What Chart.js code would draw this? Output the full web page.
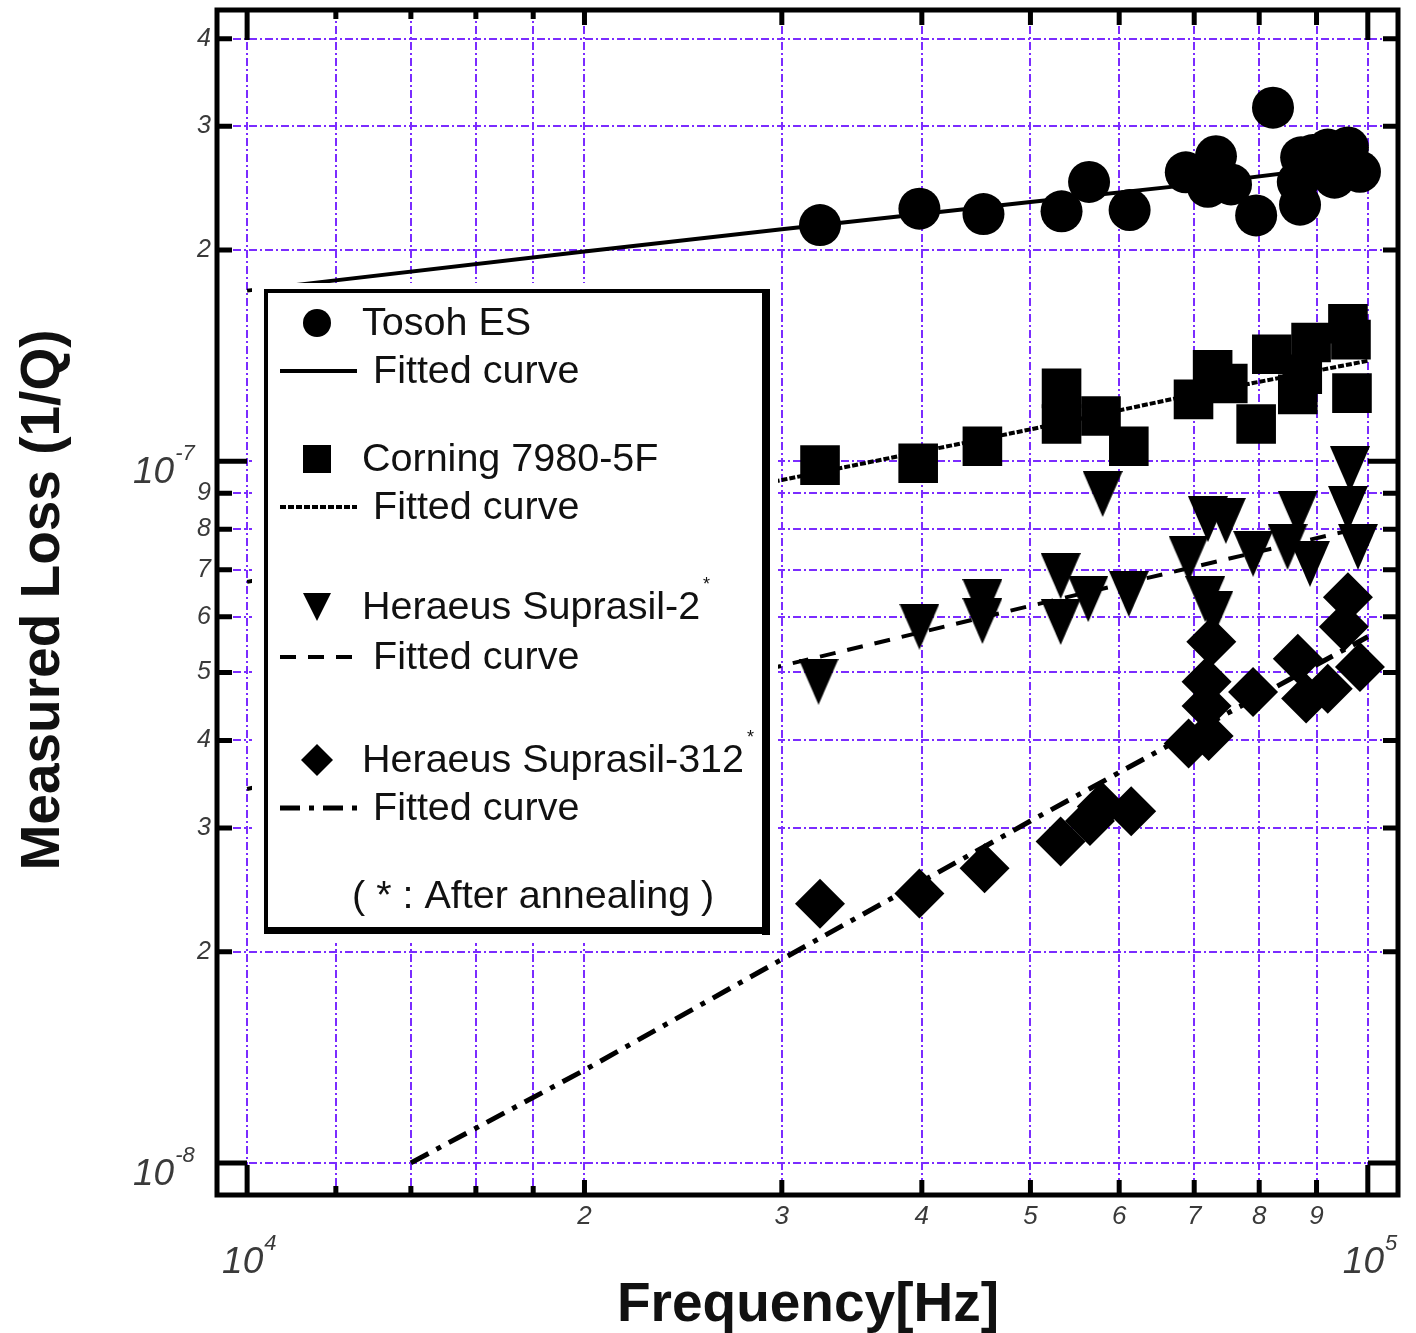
<!DOCTYPE html>
<html>
<head>
<meta charset="utf-8">
<title>Measured Loss vs Frequency</title>
<script src="https://cdn.jsdelivr.net/npm/chart.js@4.4.1/dist/chart.umd.min.js"></script>
<style>
  html, body { margin: 0; padding: 0; background: #fff; }
  #wrap { width: 1416px; height: 1333px; }
</style>
</head>
<body>
<div id="wrap"><canvas id="lossChart" width="1416" height="1333"></canvas></div>
<script>
// measured points, frequency [Hz] / loss [1/Q]
const tosohFreq = [32450, 39800, 45400, 53300, 56400, 61300, 68800, 73200, 72000, 75500, 79500, 82300, 87200, 87000, 86600, 89300, 92100, 96000, 98400, 94000, 93400];
const tosohLoss = [2.17e-7, 2.29e-7, 2.25e-7, 2.27e-7, 2.50e-7, 2.28e-7, 2.58e-7, 2.72e-7, 2.46e-7, 2.48e-7, 2.24e-7, 3.19e-7, 2.71e-7, 2.32e-7, 2.50e-7, 2.73e-7, 2.78e-7, 2.80e-7, 2.585e-7, 2.645e-7, 2.535e-7];

const corningFreq = [32450, 39700, 45300, 53300, 53300, 57800, 61200, 69900, 72700, 75000, 79500, 82100, 87400, 86600, 89000, 96000, 96600, 96800];
const corningLoss = [9.87e-8, 9.93e-8, 1.05e-7, 1.27e-7, 1.13e-7, 1.16e-7, 1.05e-7, 1.225e-7, 1.35e-7, 1.29e-7, 1.13e-7, 1.42e-7, 1.33e-7, 1.245e-7, 1.476e-7, 1.57e-7, 1.49e-7, 1.25e-7];

const sup2Freq = [32350, 39800, 45300, 45300, 53200, 53200, 56300, 61200, 58000, 69200, 72000, 74700, 71600, 72800, 79000, 86600, 88800, 84800, 96400, 96000, 98000];
const sup2Loss = [4.85e-8, 5.81e-8, 6.30e-8, 5.92e-8, 6.86e-8, 5.90e-8, 6.36e-8, 6.47e-8, 8.98e-8, 7.26e-8, 8.27e-8, 8.22e-8, 6.36e-8, 6.06e-8, 7.38e-8, 8.41e-8, 7.14e-8, 7.55e-8, 9.74e-8, 8.55e-8, 7.55e-8];

const sup312Freq = [32450, 39800, 45500, 53200, 56500, 57900, 61500, 69200, 72100, 71800, 71800, 72500, 79000, 86600, 88100, 96000, 95200, 98400, 92100];
const sup312Loss = [2.34e-8, 2.42e-8, 2.63e-8, 2.87e-8, 3.07e-8, 3.22e-8, 3.17e-8, 3.96e-8, 4.06e-8, 4.48e-8, 4.85e-8, 5.53e-8, 4.69e-8, 5.23e-8, 4.59e-8, 6.40e-8, 5.81e-8, 5.09e-8, 4.74e-8];

// fitted curves
const fitFreq = [1e4, 2e4, 3e4, 5e4, 7e4, 1e5];
const tosohFit = [1.75e-7, 1.99e-7, 2.14e-7, 2.34e-7, 2.48e-7, 2.66e-7];
const corningFit = [6.73e-8, 8.3e-8, 9.4e-8, 1.11e-7, 1.245e-7, 1.39e-7];
const sup2Fit = [3.41e-8, 4.4e-8, 5.11e-8, 6.22e-8, 7.07e-8, 8.08e-8];
const sup312FitFreq = [1.4e4, 2e4, 3e4, 5e4, 7e4, 1e5];
const sup312Fit = [1.0e-8, 1.356e-8, 1.95e-8, 3.07e-8, 4.12e-8, 5.62e-8];

// axis ticks / grid
const xTickValues = [1e4, 1.2e4, 1.4e4, 1.6e4, 1.8e4, 2e4, 3e4, 4e4, 5e4, 6e4, 7e4, 8e4, 9e4, 1e5];
const yTickValues = [1e-8, 2e-8, 3e-8, 4e-8, 5e-8, 6e-8, 7e-8, 8e-8, 9e-8, 1e-7, 2e-7, 3e-7, 4e-7];

const FONT = '"Liberation Sans", Arial, sans-serif';
const GRID_COLOR = '#7b2cff';

function pts(xs, ys) {
  return xs.map((x, i) => ({ x: x, y: ys[i] }));
}

function makeTriangle(w, h) {
  const c = document.createElement('canvas');
  c.width = w; c.height = h;
  const g = c.getContext('2d');
  g.fillStyle = '#000';
  g.beginPath();
  g.moveTo(0, 0); g.lineTo(w, 0); g.lineTo(w / 2, h);
  g.closePath(); g.fill();
  return c;
}

function isDecade(v) {
  const l = Math.log10(v);
  return Math.abs(l - Math.round(l)) < 1e-6;
}
function mantissa(v) {
  const m = v / Math.pow(10, Math.floor(Math.log10(v) + 1e-9));
  return Math.round(m * 10) / 10;
}

function drawPow(ctx, x, y, exp) {
  ctx.textAlign = 'left';
  ctx.textBaseline = 'alphabetic';
  ctx.font = 'italic 37px ' + FONT;
  ctx.fillText('10', x, y);
  const w = ctx.measureText('10').width;
  ctx.font = 'italic 22px ' + FONT;
  ctx.fillText(exp, x + w + 1, y - 23);
}

function drawMarker(ctx, style, x, y, r) {
  ctx.beginPath();
  if (style === 'circle') {
    ctx.arc(x, y, r, 0, Math.PI * 2);
  } else if (style === 'rect') {
    ctx.rect(x - r, y - r, 2 * r, 2 * r);
  } else if (style === 'tri') {
    ctx.moveTo(x - r, y - r); ctx.lineTo(x + r, y - r); ctx.lineTo(x, y + r);
  } else {
    ctx.moveTo(x - r, y); ctx.lineTo(x, y - r); ctx.lineTo(x + r, y); ctx.lineTo(x, y + r);
  }
  ctx.closePath();
  ctx.fill();
}

// legend box drawn over the plot, like the original
function drawLegend(chart) {
  const ctx = chart.ctx;
  const ds = chart.data.datasets;
  ctx.save();
  ctx.fillStyle = '#fff';
  ctx.fillRect(252, 283, 526, 660);
  ctx.fillStyle = '#000';
  ctx.fillRect(264, 289, 503, 4);
  ctx.fillRect(264, 289, 4, 644);
  ctx.fillRect(762, 289, 8, 646);
  ctx.fillRect(264, 927, 506, 7);

  const rows = [
    { marker: 'circle', label: 'Tosoh ES', y: 323, fit: ds[1], fy: 371 },
    { marker: 'rect', label: 'Corning 7980-5F', y: 459, fit: ds[3], fy: 507 },
    { marker: 'tri', label: 'Heraeus Suprasil-2', star: true, y: 607, fit: ds[5], fy: 657 },
    { marker: 'diamond', label: 'Heraeus Suprasil-312', star: true, y: 760, fit: ds[7], fy: 808 }
  ];
  const lf = '39.5px ' + FONT;
  ctx.textBaseline = 'middle';
  ctx.textAlign = 'left';
  rows.forEach((r) => {
    ctx.fillStyle = '#000';
    drawMarker(ctx, r.marker, 317, r.y, r.marker === 'diamond' ? 16 : 14);
    ctx.fillStyle = '#111';
    ctx.font = lf;
    ctx.fillText(r.label, 362, r.y + 1);
    if (r.star) {
      const w = ctx.measureText(r.label).width;
      ctx.font = '18px ' + FONT;
      ctx.fillText('*', 362 + w + 3, r.y - 22);
      ctx.font = lf;
    }
    ctx.fillText('Fitted curve', 373, r.fy + 1);
    ctx.strokeStyle = '#000';
    ctx.lineWidth = r.fit.borderWidth;
    ctx.setLineDash(r.fit.borderDash || []);
    ctx.beginPath();
    ctx.moveTo(280, r.fy); ctx.lineTo(357, r.fy);
    ctx.stroke();
    ctx.setLineDash([]);
  });
  ctx.font = lf;
  ctx.fillText('( * : After annealing )', 352, 897);
  ctx.restore();
}

function drawFrame(chart) {
  const ctx = chart.ctx;
  const a = chart.chartArea;
  const xs = chart.scales.x, ys = chart.scales.y;
  ctx.save();
  ctx.strokeStyle = '#000';
  ctx.lineWidth = 5;
  ctx.strokeRect(a.left, a.top, a.right - a.left, a.bottom - a.top);

  ctx.beginPath();
  xTickValues.forEach((v) => {
    const px = xs.getPixelForValue(v);
    const m = mantissa(v);
    const len = isDecade(v) ? 30 : (Number.isInteger(m) ? 15 : 9);
    ctx.moveTo(px, a.bottom); ctx.lineTo(px, a.bottom - len);
    ctx.moveTo(px, a.top); ctx.lineTo(px, a.top + len);
  });
  yTickValues.forEach((v) => {
    const py = ys.getPixelForValue(v);
    const len = isDecade(v) ? 30 : 15;
    ctx.moveTo(a.left, py); ctx.lineTo(a.left + len, py);
    ctx.moveTo(a.right, py); ctx.lineTo(a.right - len, py);
  });
  ctx.stroke();

  // tick labels
  ctx.fillStyle = '#3a3a3a';
  xTickValues.forEach((v) => {
    const px = xs.getPixelForValue(v);
    const m = mantissa(v);
    if (isDecade(v)) {
      drawPow(ctx, px - 25, 1273, String(Math.round(Math.log10(v))));
    } else if (Number.isInteger(m)) {
      ctx.font = 'italic 26px ' + FONT;
      ctx.textAlign = 'center';
      ctx.textBaseline = 'middle';
      ctx.fillText(String(m), px, 1217);
    }
  });
  yTickValues.forEach((v) => {
    const py = ys.getPixelForValue(v);
    if (isDecade(v)) {
      drawPow(ctx, 133, py + 22, String(Math.round(Math.log10(v))));
    } else {
      ctx.font = 'italic 25px ' + FONT;
      ctx.textAlign = 'right';
      ctx.textBaseline = 'middle';
      ctx.fillText(String(mantissa(v)), 211, py);
    }
  });

  // axis titles
  ctx.fillStyle = '#111';
  ctx.font = 'bold 55px ' + FONT;
  ctx.textAlign = 'center';
  ctx.textBaseline = 'alphabetic';
  ctx.fillText('Frequency[Hz]', 808, 1321);
  ctx.save();
  ctx.translate(59, 600);
  ctx.rotate(-Math.PI / 2);
  ctx.fillText('Measured Loss (1/Q)', 0, 0);
  ctx.restore();
  ctx.restore();
}

const plotDecor = {
  id: 'plotDecor',
  afterDatasetsDraw(chart) { drawLegend(chart); },
  afterDraw(chart) { drawFrame(chart); }
};

function fitSet(xs, ys, dash, width) {
  return {
    data: pts(xs, ys), showLine: true, pointRadius: 0, pointHoverRadius: 0,
    borderColor: '#000', borderWidth: width, borderDash: dash, fill: false
  };
}
function pointSet(xs, ys, style, radius) {
  return {
    data: pts(xs, ys), showLine: false, pointStyle: style, pointRadius: radius,
    pointHoverRadius: radius, backgroundColor: '#000', borderColor: '#000', borderWidth: 0
  };
}

const ctx = document.getElementById('lossChart').getContext('2d');
new Chart(ctx, {
  type: 'scatter',
  data: {
    datasets: [
      pointSet(tosohFreq, tosohLoss, 'circle', 21),
      fitSet(fitFreq, tosohFit, [], 4),
      pointSet(corningFreq, corningLoss, 'rect', 28),
      fitSet(fitFreq, corningFit, [6, 2], 4),
      pointSet(sup2Freq, sup2Loss, makeTriangle(40, 46), 23),
      fitSet(fitFreq, sup2Fit, [16, 12], 4),
      pointSet(sup312Freq, sup312Loss, 'rectRot', 25),
      fitSet(sup312FitFreq, sup312Fit, [20, 9, 5, 9], 5)
    ]
  },
  options: {
    responsive: false,
    animation: false,
    layout: { autoPadding: false, padding: { left: 217, right: 18, top: 10, bottom: 138 } },
    plugins: { legend: { display: false }, tooltip: { enabled: false } },
    scales: {
      x: {
        type: 'logarithmic', min: 9400, max: 106400,
        afterBuildTicks: (axis) => { axis.ticks = xTickValues.map((v) => ({ value: v })); },
        ticks: { display: false },
        grid: { color: GRID_COLOR, lineWidth: 2, drawTicks: false },
        border: { display: false, dash: [8, 3, 2, 3] }
      },
      y: {
        type: 'logarithmic', min: 9.07e-9, max: 4.395e-7,
        afterBuildTicks: (axis) => { axis.ticks = yTickValues.map((v) => ({ value: v })); },
        ticks: { display: false },
        grid: { color: GRID_COLOR, lineWidth: 2, drawTicks: false },
        border: { display: false, dash: [8, 3, 2, 3] }
      }
    }
  },
  plugins: [plotDecor]
});
</script>
</body>
</html>
